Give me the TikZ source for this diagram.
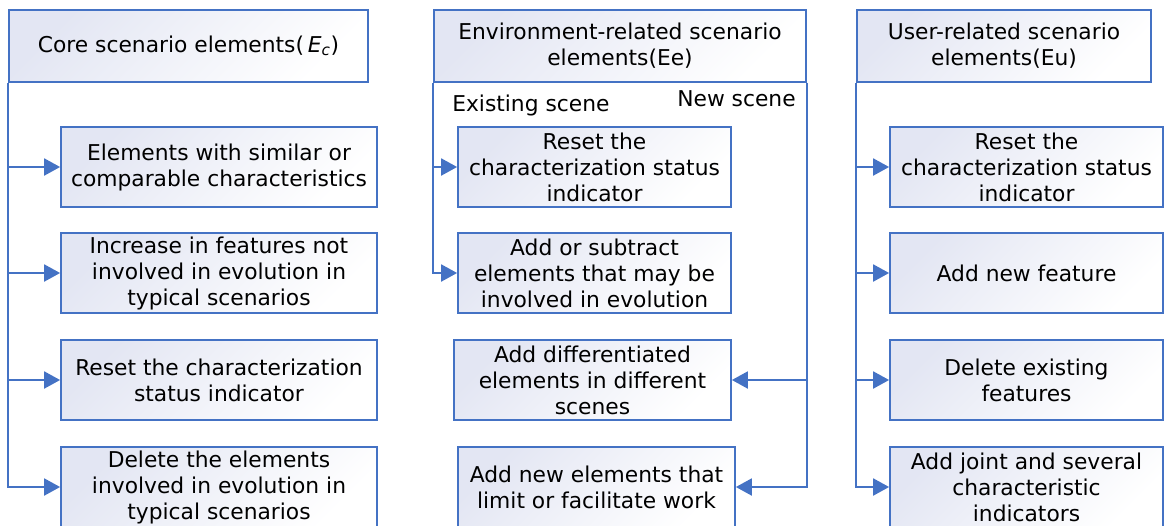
\documentclass[tikz,border=0pt]{standalone}
\usepackage{fontspec}
\setmainfont{DejaVu Sans}
\usetikzlibrary{arrows.meta}
\definecolor{lineblue}{HTML}{4472C4}
\definecolor{boxtint}{HTML}{E3E6F3}
\tikzset{
	elembox/.style={rectangle, draw=lineblue, line width=1.2pt, minimum height=2cm, inner sep=0pt, align=center,
		top color=boxtint, bottom color=white, shading angle=45,
		font=\fontsize{15.5}{18.5}\selectfont},
	headbox/.style={elembox, minimum height=1.8cm},
	trunk/.style={draw=lineblue, line width=1.8pt},
	flow/.style={trunk, -{Triangle[length=0.4cm,width=0.42cm]}},
	scenelbl/.style={inner sep=0pt, font=\fontsize{15.5}{18.5}\selectfont},
}

\begin{document}
\begin{tikzpicture}
			%%%%% START %%%%%
			\useasboundingbox (0, 0) rectangle (29.1, -13.125);
			
			% core elements
			\node[headbox, minimum width=8.975cm] (core) at (4.7125, -1.15) {Core scenario elements(\,\textit{E}\textsubscript{\textit{c}})};
			\node[elembox, minimum width=7.9cm] (c1) at (5.475, -4.175) {Elements with similar or\\comparable characteristics};
			\node[elembox, minimum width=7.9cm] (c2) at (5.475, -6.825) {Increase in features not\\involved in evolution in\\typical scenarios};
			\node[elembox, minimum width=7.9cm] (c3) at (5.475, -9.5) {Reset the characterization\\status indicator};
			\node[elembox, minimum width=7.9cm] (c4) at (5.475, -12.175) {Delete the elements\\involved in evolution in\\typical scenarios};
			
			\draw[flow] (core.south west) |- (c1.west);
			\draw[flow] (core.south west) |- (c2.west);
			\draw[flow] (core.south west) |- (c3.west);
			\draw[flow] (core.south west) |- (c4.west);
			
			% environment elements
			\node[headbox, minimum width=9.3cm] (env) at (15.5, -1.15) {Environment-related scenario\\elements(Ee)};
			\node[scenelbl, anchor=base west] (existlbl) at (11.3, -2.775) {Existing scene};
			\node[scenelbl, anchor=base east] (newlbl) at (19.9, -2.65) {New scene};
			\node[elembox, minimum width=6.825cm] (e1) at (14.8625, -4.175) {Reset the\\characterization status\\indicator};
			\node[elembox, minimum width=6.825cm] (e2) at (14.8625, -6.825) {Add or subtract\\elements that may be\\involved in evolution};
			\node[elembox, minimum width=6.925cm] (e3) at (14.8125, -9.5) {Add differentiated\\elements in different\\scenes};
			\node[elembox, minimum width=6.925cm] (e4) at (14.9125, -12.175) {Add new elements that\\limit or facilitate work};
			
			\draw[flow] (env.south west) |- (e1.west);
			\draw[flow] (env.south west) |- (e2.west);
			\draw[flow] (env.south east) |- (e3.east);
			\draw[flow] (env.south east) |- (e4.east);
			
			% user elements
			\node[headbox, minimum width=7.35cm] (user) at (25.1, -1.15) {User-related scenario\\elements(Eu)};
			\node[elembox, minimum width=6.825cm] (u1) at (25.6625, -4.175) {Reset the\\characterization status\\indicator};
			\node[elembox, minimum width=6.825cm] (u2) at (25.6625, -6.825) {Add new feature};
			\node[elembox, minimum width=6.825cm] (u3) at (25.6625, -9.5) {Delete existing\\features};
			\node[elembox, minimum width=6.825cm] (u4) at (25.6625, -12.175) {Add joint and several\\characteristic\\indicators};
			
			\draw[flow] (user.south west) |- (u1.west);
			\draw[flow] (user.south west) |- (u2.west);
			\draw[flow] (user.south west) |- (u3.west);
			\draw[flow] (user.south west) |- (u4.west);
			
			%%%%% END %%%%%
\end{tikzpicture}
\end{document}
